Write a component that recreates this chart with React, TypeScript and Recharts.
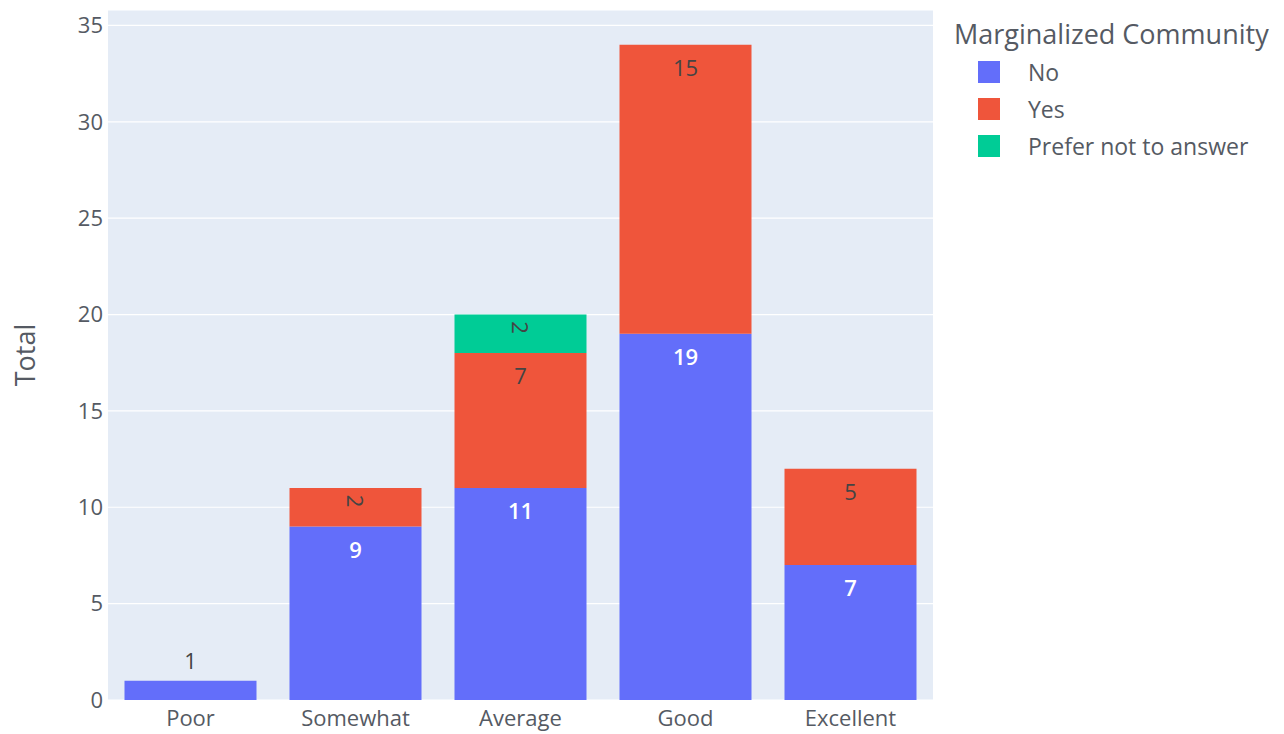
import React from 'react';
import { BarChart, Bar, XAxis, YAxis, CartesianGrid, LabelList, Label } from 'recharts';

const categories = ['Poor', 'Somewhat', 'Average', 'Good', 'Excellent'];
const noValues: (number | null)[] = [1, 9, 11, 19, 7];
const yesValues: (number | null)[] = [null, 2, 7, 15, 5];
const preferValues: (number | null)[] = [null, null, 2, null, null];
const yTicks = [0, 5, 10, 15, 20, 25, 30, 35];

const seriesInfo = [
  { key: 'no', name: 'No', color: '#636EFA', text: '#ffffff' },
  { key: 'yes', name: 'Yes', color: '#EF553B', text: '#444444' },
  { key: 'prefer', name: 'Prefer not to answer', color: '#00CC96', text: '#444444' },
];

const data = categories.map((c, i) => ({
  cat: c,
  no: noValues[i],
  yes: yesValues[i],
  prefer: preferValues[i],
}));

const FONT = '"Open Sans", sans-serif';
const TXT = '#555a63';
const LABEL_SIZE = 22;

const makeLabel = (color: string) => (props: any) => {
  const { x, y, width, height, value } = props;
  let v: any = value;
  if (Array.isArray(v)) v = v[1] - v[0];
  if (v == null || v === 0 || Number.isNaN(v)) return null;
  const cx = Number(x) + Number(width) / 2;
  const top = Number(y);
  const h = Number(height);
  const weight = color === '#ffffff' ? 600 : 400;
  if (h < 28) {
    return (
      <text x={cx} y={top - 21} fill="#444444" textAnchor="middle" dominantBaseline="central" fontSize={LABEL_SIZE} fontFamily={FONT}>
        {v}
      </text>
    );
  }
  if (h < 45) {
    const cy = top + 13;
    return (
      <text x={cx} y={cy} fill={color} textAnchor="middle" dominantBaseline="central" fontSize={LABEL_SIZE} fontWeight={weight} fontFamily={FONT} transform={`rotate(90 ${cx} ${cy})`}>
        {v}
      </text>
    );
  }
  return (
    <text x={cx} y={top + 22} fill={color} textAnchor="middle" dominantBaseline="central" fontSize={LABEL_SIZE} fontWeight={weight} fontFamily={FONT}>
      {v}
    </text>
  );
};

const LegendBox = () => (
  <div style={{ position: 'absolute', left: 954, top: 15, fontFamily: FONT, color: TXT }}>
    <div style={{ fontSize: 27, lineHeight: '38px', whiteSpace: 'nowrap' }}>Marginalized Community</div>
    {seriesInfo.map((s) => (
      <div key={s.key} style={{ display: 'flex', alignItems: 'center', height: 37 }}>
        <div style={{ width: 22, height: 22, background: s.color, marginLeft: 24, marginRight: 28 }} />
        <span style={{ fontSize: 23, whiteSpace: 'nowrap' }}>{s.name}</span>
      </div>
    ))}
  </div>
);

export default function App() {
  return (
    <div style={{ position: 'absolute', left: 0, top: 0, width: 1284, height: 734, background: '#fff' }}>
      <BarChart
        width={1284}
        height={734}
        data={data}
        margin={{ top: 10, right: 351, left: 48, bottom: 4 }}
        barCategoryGap="10%"
      >
        <CartesianGrid fill="#E5ECF6" stroke="#ffffff" strokeWidth={1.2} vertical={false} />
        <XAxis
          dataKey="cat"
          height={30}
          tickLine={false}
          axisLine={false}
          tickMargin={4}
          tick={{ fill: TXT, fontSize: 22, fontFamily: FONT }}
        />
        <YAxis
          width={60}
          domain={[0, 35.8]}
          ticks={yTicks}
          tickLine={false}
          axisLine={false}
          tickSize={0}
          tickMargin={5}
          tick={{ fill: TXT, fontSize: 22, fontFamily: FONT }}
        >
          <Label
            content={() => (
              <text x={24} y={355} transform="rotate(-90 24 355)" textAnchor="middle" dominantBaseline="central" fill={TXT} fontSize={27} fontFamily={FONT}>
                Total
              </text>
            )}
          />
        </YAxis>
        {seriesInfo.map((s) => (
          <Bar key={s.key} dataKey={s.key} name={s.name} stackId="a" fill={s.color} isAnimationActive={false}>
            <LabelList dataKey={s.key} content={makeLabel(s.text)} />
          </Bar>
        ))}
      </BarChart>
      <LegendBox />
    </div>
  );
}
